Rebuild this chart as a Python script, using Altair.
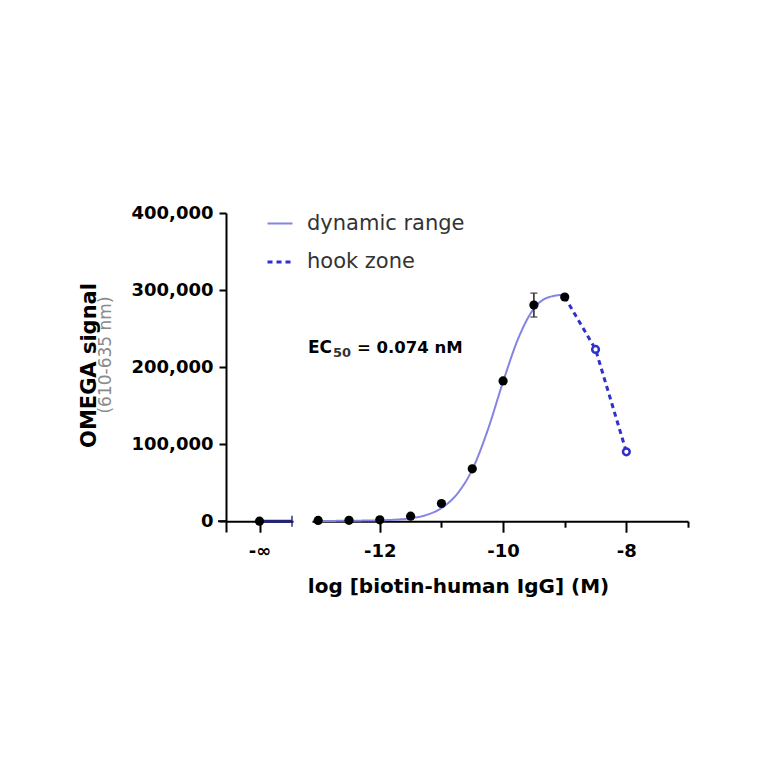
import altair as alt
import pandas as pd

FONT = "DejaVu Sans"

# ---------------- data ----------------
# fitted curve, dynamic range (x = log10 molar)
curve_x = [-13.0, -12.5, -12.0, -11.75, -11.5, -11.25, -11.0, -10.75, -10.5,
           -10.25, -10.0, -9.75, -9.5, -9.25, -9.0]
curve_y = [300, 600, 1200, 2000, 3800, 8000, 17000, 35000, 67000,
           118000, 181000, 238000, 276000, 291000, 294000]
# hook zone connection (dashed)
hookline_x = [-9.0, -8.5, -8.0]
hookline_y = [291000, 223000, 90000]
# measured means, dynamic range (filled)
dose_x = [-13.0, -12.5, -12.0, -11.5, -11.0, -10.5, -10.0, -9.5, -9.0]
dose_y = [1000, 1200, 1800, 6500, 23000, 68000, 182000, 280500, 291000]
# measured means, hook zone (open)
hook_x = [-8.5, -8.0]
hook_y = [223000, 90000]
# error bar
err_x = [-9.5]
err_lo = [265000]
err_hi = [296000]
# zero concentration ("-inf")
blank_pos = [1]
blank_y = [0]

series_names = ["dynamic range", "hook zone"]
y_ticks = [0, 100000, 200000, 300000, 400000]
x_ticks = [-12, -11, -10, -9, -8, -7]   # even = labelled major, odd = minor
ec50_text = "= 0.074 nM"

# ---------------- tables ----------------
curve = pd.DataFrame({"x": curve_x, "y": curve_y,
                      "series": [series_names[0]] * len(curve_x)})
hookline = pd.DataFrame({"x": hookline_x, "y": hookline_y,
                         "series": [series_names[1]] * len(hookline_x)})
dose = pd.DataFrame({"x": dose_x, "y": dose_y})
hook = pd.DataFrame({"x": hook_x, "y": hook_y})
err = pd.DataFrame({"x": err_x, "lo": err_lo, "hi": err_hi})
blank = pd.DataFrame({"pos": blank_pos, "y": blank_y})

H = 319
W_LEFT = 67
W_MAIN = 376
Y_DOMAIN = [-14000, 400000]
AX_OFF = -10.8

yscale = alt.Scale(domain=Y_DOMAIN, nice=False, zero=False)
xscale = alt.Scale(domain=[-13.1, -7], nice=False, zero=False)
lscale = alt.Scale(domain=[0, 2], nice=False, zero=False)

legend = alt.Legend(
    title=None, orient="none", legendX=40, legendY=-3,
    symbolType="stroke", symbolSize=625, labelFont=FONT, labelFontSize=21,
    labelColor="#333333", labelFontWeight="normal", rowPadding=14,
    labelOffset=13, padding=0,
)

main_axis = alt.Axis(
    values=x_ticks,
    labelExpr="datum.value % 2 == 0 ? '-' + format(abs(datum.value), 'd') : ''",
    tickSize={"condition": {"test": "datum.value % 2 == 0", "value": 11},
              "value": 6},
    offset=AX_OFF, labelPadding=10,
    title="log [biotin-human IgG] (M)", titleFont=FONT, titleFontSize=20,
    titleFontWeight="bold", titleX=146, titleY=71, titleAlign="center",
    titleBaseline="alphabetic",
)

color_enc = alt.Color("series:N", scale=alt.Scale(domain=series_names,
                      range=["#8484e4", "#3030cc"]), legend=legend)
dash_enc = alt.StrokeDash("series:N", scale=alt.Scale(domain=series_names,
                          range=[[1, 0], [5, 4]]), legend=legend)
width_enc = alt.StrokeWidth("series:N", scale=alt.Scale(domain=series_names,
                            range=[2, 3]), legend=legend)

curve_layer = alt.Chart(curve).mark_line(interpolate="monotone").encode(
    x=alt.X("x:Q", scale=xscale, axis=main_axis),
    y=alt.Y("y:Q", scale=yscale, axis=None),
    color=color_enc, strokeDash=dash_enc, strokeWidth=width_enc,
)
hookline_layer = alt.Chart(hookline).mark_line().encode(
    x=alt.X("x:Q", scale=xscale),
    y=alt.Y("y:Q", scale=yscale),
    color=color_enc, strokeDash=dash_enc, strokeWidth=width_enc,
)

err_layer = alt.Chart(err).mark_errorbar(ticks=True, size=7, color="#222222",
                                         thickness=1.5).encode(
    x=alt.X("x:Q", scale=xscale),
    y=alt.Y("lo:Q", scale=yscale, title=None),
    y2="hi:Q",
)

dose_layer = alt.Chart(dose).mark_point(filled=True, size=85, color="black",
                                        opacity=1).encode(
    x=alt.X("x:Q", scale=xscale),
    y=alt.Y("y:Q", scale=yscale),
)

hook_layer = alt.Chart(hook).mark_point(filled=False, size=45, color="#3030cc",
                                        fill="white", fillOpacity=1,
                                        strokeWidth=2.5, opacity=1).encode(
    x=alt.X("x:Q", scale=xscale),
    y=alt.Y("y:Q", scale=yscale),
)

ec_df = pd.DataFrame({"a": ["EC"], "b": ["50"], "c": [ec50_text]})
ec_a = alt.Chart(ec_df).mark_text(font=FONT, fontSize=17, fontWeight="bold",
                                  align="left", baseline="alphabetic",
                                  color="black").encode(
    x=alt.value(-4), y=alt.value(140), text="a:N")
ec_b = alt.Chart(ec_df).mark_text(font=FONT, fontSize=13, fontWeight="bold",
                                  align="left", baseline="alphabetic",
                                  color="#333333").encode(
    x=alt.value(21), y=alt.value(144), text="b:N")
ec_c = alt.Chart(ec_df).mark_text(font=FONT, fontSize=16.5, fontWeight="bold",
                                  align="left", baseline="alphabetic",
                                  color="black").encode(
    x=alt.value(45), y=alt.value(140), text="c:N")

main = alt.layer(curve_layer, hookline_layer, err_layer, dose_layer, hook_layer,
                 ec_a, ec_b, ec_c).properties(width=W_MAIN, height=H)

# ---------------- left (-inf) segment ----------------
y_axis = alt.Axis(
    values=y_ticks, format=",d", tickSize=7, labelPadding=6,
    title="OMEGA signal", titleFont=FONT, titleFontSize=21, titleFontWeight="bold",
    titleX=-131, titleY=152, titleAngle=270, titleAlign="center",
    titleBaseline="alphabetic",
)
left_axis = alt.Axis(values=blank_pos, labelExpr="'-∞'", tickSize=11,
                     offset=AX_OFF, labelPadding=10, title=None)

blank_pt = alt.Chart(blank).mark_point(filled=True, size=85, color="black",
                                       opacity=1).encode(
    x=alt.X("pos:Q", scale=lscale, axis=left_axis),
    y=alt.Y("y:Q", scale=yscale, axis=y_axis),
)
blank_line = alt.Chart(blank).mark_rule(color="#22227a", strokeWidth=3).encode(
    x=alt.X("pos:Q", scale=lscale), x2=alt.value(W_LEFT - 1),
    y=alt.Y("y:Q", scale=yscale),
)
blank_cap = alt.Chart(blank).mark_tick(orient="vertical", size=11, thickness=2,
                                       color="#22227a").encode(
    x=alt.value(W_LEFT - 1), y=alt.Y("y:Q", scale=yscale),
)
# x axis line crossing past the y axis, as in the original
cross = alt.Chart(blank).mark_rule(color="black", strokeWidth=2).encode(
    x=alt.value(-8), x2=alt.value(0), y=alt.Y("y:Q", scale=yscale),
)
sub_df = pd.DataFrame({"t": ["(610-635 nm)"]})
subtitle = alt.Chart(sub_df).mark_text(font=FONT, fontSize=17, color="#8a8a8a",
                                       angle=270, align="center",
                                       baseline="alphabetic").encode(
    x=alt.value(-115), y=alt.value(142), text="t:N")

left = alt.layer(cross, blank_line, blank_cap, blank_pt, subtitle).properties(
    width=W_LEFT, height=H)

chart = alt.hconcat(left, main, spacing=19, bounds="flush").properties(
    padding={"left": 70, "top": 196, "right": 5, "bottom": 5},
    background="white",
).configure_view(stroke=None).configure_axis(
    grid=False, domainColor="black", tickColor="black", labelColor="black",
    labelFont=FONT, labelFontSize=18, labelFontWeight="bold",
    domainWidth=2, tickWidth=2, titleColor="black",
)

chart.save("out.html", embed_options={"renderer": "svg", "actions": False})
